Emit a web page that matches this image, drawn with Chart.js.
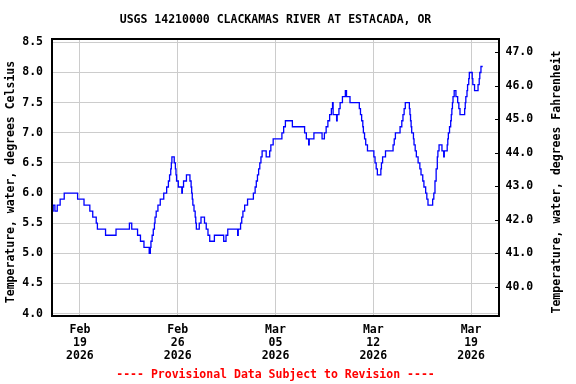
<!DOCTYPE html>
<html>
<head>
<meta charset="utf-8">
<title>USGS 14210000 Clackamas River at Estacada</title>
<script src="https://cdn.jsdelivr.net/npm/chart.js@4.4.1/dist/chart.umd.min.js"></script>
<style>
  html, body { margin: 0; padding: 0; background: #fff; }
  #wrap { width: 576px; height: 384px; }
</style>
</head>
<body>
<div id="wrap"><canvas id="tempChart" width="576" height="384"></canvas></div>
<script>
// hours since 2026-02-17 00:00, value holds until the next entry
const hours = [
  1, 2, 5, 9, 14, 21, 44, 55, 65, 70, 76, 78, 92, 110, 133, 137, 147, 152, 158, 167,
  169, 170, 172, 174, 176, 177, 179, 182, 186, 192, 197, 200, 202, 204, 205, 206, 210, 212, 213, 214,
  217, 223, 224, 226, 231, 237, 239, 240, 241, 242, 244, 246, 247, 248, 253, 256, 262, 265, 268, 271,
  279, 295, 299, 302, 319, 320, 324, 326, 328, 331, 336, 346, 349, 351, 353, 355, 357, 359, 361, 368,
  374, 376, 380, 395, 398, 401, 413, 434, 437, 441, 442, 450, 464, 468, 471, 474, 477, 480, 482, 483,
  489, 490, 493, 495, 499, 504, 506, 512, 528, 530, 532, 534, 535, 537, 539, 542, 553, 555, 557, 559,
  565, 566, 568, 573, 586, 588, 590, 598, 601, 603, 605, 607, 614, 615, 616, 617, 618, 621, 622, 624,
  626, 629, 632, 634, 637, 639, 642, 644, 646, 654, 656, 658, 660, 662, 663, 665, 670, 673, 674, 679,
  680, 681, 683, 685, 686, 687, 688, 689, 691, 694, 697, 699, 701, 709, 710, 711, 713, 714, 716, 717,
  722, 723, 726, 732, 734, 735, 737, 740
];
const tempC = [
  5.7, 5.8, 5.7, 5.8, 5.9, 6.0, 5.9, 5.8, 5.7, 5.6, 5.5, 5.4, 5.3, 5.4, 5.5, 5.4, 5.3, 5.2, 5.1, 5.0,
  5.1, 5.2, 5.3, 5.4, 5.5, 5.6, 5.7, 5.8, 5.9, 6.0, 6.1, 6.2, 6.3, 6.4, 6.5, 6.6, 6.5, 6.4, 6.3, 6.2,
  6.1, 6.0, 6.1, 6.2, 6.3, 6.2, 6.1, 6.0, 5.9, 5.8, 5.7, 5.6, 5.5, 5.4, 5.5, 5.6, 5.5, 5.4, 5.3, 5.2,
  5.3, 5.2, 5.3, 5.4, 5.3, 5.4, 5.5, 5.6, 5.7, 5.8, 5.9, 6.0, 6.1, 6.2, 6.3, 6.4, 6.5, 6.6, 6.7, 6.6,
  6.7, 6.8, 6.9, 7.0, 7.1, 7.2, 7.1, 7.0, 6.9, 6.8, 6.9, 7.0, 6.9, 7.0, 7.1, 7.2, 7.3, 7.4, 7.5, 7.3,
  7.2, 7.3, 7.4, 7.5, 7.6, 7.7, 7.6, 7.5, 7.4, 7.3, 7.2, 7.1, 7.0, 6.9, 6.8, 6.7, 6.6, 6.5, 6.4, 6.3,
  6.4, 6.5, 6.6, 6.7, 6.8, 6.9, 7.0, 7.1, 7.2, 7.3, 7.4, 7.5, 7.4, 7.3, 7.2, 7.1, 7.0, 6.9, 6.8, 6.7,
  6.6, 6.5, 6.4, 6.3, 6.2, 6.1, 6.0, 5.9, 5.8, 5.9, 6.0, 6.2, 6.4, 6.6, 6.7, 6.8, 6.7, 6.6, 6.7, 6.8,
  6.9, 7.0, 7.1, 7.2, 7.3, 7.4, 7.5, 7.6, 7.7, 7.6, 7.5, 7.4, 7.3, 7.4, 7.5, 7.6, 7.7, 7.8, 7.9, 8.0,
  7.9, 7.8, 7.7, 7.8, 7.9, 8.0, 8.1, 8.1
];

const tickHours = [48, 216, 384, 552, 720];
const tickLabels = [
  ["Feb", "19", "2026"],
  ["Feb", "26", "2026"],
  ["Mar", "05", "2026"],
  ["Mar", "12", "2026"],
  ["Mar", "19", "2026"]
];

const yMin = 3.96;
const yMax = 8.556;
const toF = (c) => c * 1.8 + 32;

const FONT = "'DejaVu Sans Mono', 'Liberation Mono', monospace";
const titleText = "USGS 14210000 CLACKAMAS RIVER AT ESTACADA, OR";
const leftTitle = "Temperature, water, degrees Celsius";
const rightTitle = "Temperature, water, degrees Fahrenheit";

// frame, inner ticks on the right axis, header and axis titles
const decorations = {
  id: "decorations",
  afterDraw(chart) {
    const { ctx, chartArea } = chart;
    const y2 = chart.scales.y2;
    ctx.save();
    ctx.strokeStyle = "#000";
    ctx.lineWidth = 1;
    y2.ticks.forEach((t) => {
      const py = Math.round(y2.getPixelForValue(t.value)) + 0.5;
      ctx.beginPath();
      ctx.moveTo(chartArea.right - 4, py);
      ctx.lineTo(chartArea.right, py);
      ctx.stroke();
    });
    ctx.lineWidth = 2;
    ctx.strokeRect(chartArea.left, chartArea.top, chartArea.right - chartArea.left, chartArea.bottom - chartArea.top);

    ctx.fillStyle = "#000";
    ctx.font = "bold 11.5px " + FONT;
    ctx.textAlign = "center";
    ctx.textBaseline = "middle";
    ctx.fillText(titleText, (chartArea.left + chartArea.right) / 2, 20);

    const midY = 182;
    ctx.save();
    ctx.translate(11.5, midY);
    ctx.rotate(-Math.PI / 2);
    ctx.fillText(leftTitle, 0, 0);
    ctx.restore();

    ctx.save();
    ctx.translate(557, midY);
    ctx.rotate(-Math.PI / 2);
    ctx.fillText(rightTitle, 0, 0);
    ctx.restore();
    ctx.restore();
  }
};

const ctx = document.getElementById("tempChart");
new Chart(ctx, {
  type: "line",
  data: {
    datasets: [
      {
        data: hours.map((h, i) => ({ x: h, y: tempC[i] })),
        borderColor: "#0000ff",
        borderWidth: 1.3,
        pointRadius: 0,
        stepped: true,
        fill: false,
        yAxisID: "y"
      }
    ]
  },
  options: {
    responsive: false,
    animation: false,
    layout: { padding: { top: 39, left: 0, right: 0, bottom: 0 } },
    plugins: {
      legend: { display: false },
      title: { display: false },
      tooltip: { enabled: false }
    },
    scales: {
      x: {
        type: "linear",
        min: 0,
        max: 768,
        border: { display: false },
        grid: { color: "#cccccc", lineWidth: 1, drawTicks: false },
        afterBuildTicks: (scale) => {
          scale.ticks = tickHours.map((v) => ({ value: v }));
        },
        afterFit: (scale) => { scale.height = 68; },
        ticks: {
          autoSkip: false,
          maxRotation: 0,
          padding: 7.5,
          color: "#000",
          font: { family: FONT, size: 11.5, weight: "bold", lineHeight: "13px" },
          callback: (value) => {
            const i = tickHours.indexOf(value);
            return i >= 0 ? tickLabels[i] : "";
          }
        },
        title: {
          display: true,
          text: "---- Provisional Data Subject to Revision ----",
          color: "#ff0000",
          font: { family: FONT, size: 11.5, weight: "bold" },
          padding: { top: 0, bottom: 2 }
        }
      },
      y: {
        position: "left",
        min: yMin,
        max: yMax,
        border: { display: false },
        grid: { color: "#cccccc", lineWidth: 1, drawTicks: false },
        afterFit: (scale) => { scale.width = 52; },
        ticks: {
          stepSize: 0.5,
          includeBounds: false,
          padding: 9,
          color: "#000",
          font: { family: FONT, size: 11.5, weight: "bold" },
          callback: (v) => Number(v).toFixed(1)
        }
      },
      y2: {
        position: "right",
        min: toF(yMin),
        max: toF(yMax),
        border: { display: false },
        grid: { drawOnChartArea: false, drawTicks: false },
        afterFit: (scale) => { scale.width = 77; },
        ticks: {
          stepSize: 1,
          includeBounds: false,
          padding: 6.5,
          color: "#000",
          font: { family: FONT, size: 11.5, weight: "bold" },
          callback: (v) => Number(v).toFixed(1)
        }
      }
    }
  },
  plugins: [decorations]
});
</script>
</body>
</html>
